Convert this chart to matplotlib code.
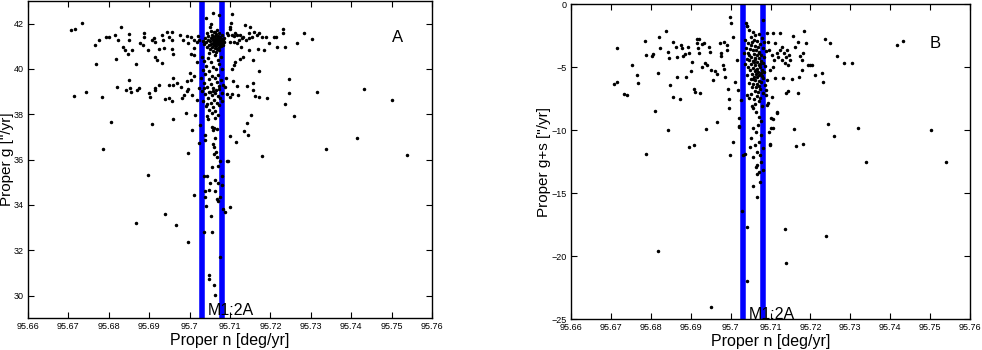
import numpy as np
import matplotlib
matplotlib.use('Agg')
import matplotlib.pyplot as plt

plt.rcParams['font.family'] = ['Liberation Sans', 'DejaVu Sans']

# resonance M1:2A borders (deg/yr)
res_lo = 95.703
res_hi = 95.708
res_name = 'M1:2A'

n_ticks = [95.66, 95.67, 95.68, 95.69, 95.70, 95.71, 95.72, 95.73, 95.74, 95.75, 95.76]
n_labels = ['95.66', '95.67', '95.68', '95.69', '95.7', '95.71', '95.72', '95.73', '95.74', '95.75', '95.76']
g_ticks = [30, 32, 34, 36, 38, 40, 42]
gs_ticks = [0, -5, -10, -15, -20, -25]

# panel A: proper n vs proper g
a_outer = [
    (95.6706, 41.72), (95.6717, 41.75), (95.6733, 42.04), (95.6766, 41.05), (95.6776, 41.30),
    (95.6769, 40.24), (95.6793, 41.39), (95.6801, 41.39), (95.6816, 41.52), (95.6822, 41.30),
    (95.6830, 41.83), (95.6836, 40.98), (95.6841, 40.83), (95.6817, 40.46), (95.6849, 41.54),
    (95.6849, 41.30), (95.6847, 40.68), (95.6858, 40.83), (95.6868, 40.24), (95.6878, 41.13),
    (95.6884, 41.05), (95.6887, 41.57), (95.6886, 41.42), (95.6898, 40.83), (95.6906, 41.27),
    (95.6912, 41.35), (95.6915, 41.20), (95.6915, 40.51), (95.6919, 40.39), (95.6924, 40.86),
    (95.6714, 38.80), (95.6743, 38.97), (95.6783, 38.77), (95.6806, 37.65), (95.6821, 39.21),
    (95.6843, 39.09), (95.6851, 39.50), (95.6855, 38.99), (95.6853, 39.15), (95.6869, 39.09),
    (95.6874, 39.18), (95.6900, 38.94), (95.6901, 38.77), (95.6915, 39.09), (95.6915, 39.18),
    (95.6906, 37.56), (95.6925, 39.28), (95.6785, 36.48), (95.6896, 35.34),
    (95.6931, 41.49), (95.6935, 41.27), (95.6944, 41.61), (95.6956, 41.61), (95.6948, 41.42),
    (95.6956, 41.27), (95.6937, 40.91), (95.6956, 40.86), (95.6958, 40.68), (95.6931, 40.27),
    (95.6977, 41.49), (95.6983, 41.30), (95.6993, 41.45), (95.6997, 41.16), (95.7003, 41.39),
    (95.7010, 41.27), (95.7018, 41.20), (95.7003, 40.68), (95.7011, 40.61), (95.7010, 40.91),
    (95.7022, 41.45), (95.7024, 41.27), (95.7018, 40.32), (95.7000, 39.83), (95.7010, 39.68),
    (95.7003, 39.53), (95.6993, 39.47), (95.6997, 39.13), (95.6978, 39.21), (95.6968, 39.36),
    (95.6958, 39.58), (95.6960, 39.31), (95.6948, 39.28), (95.6939, 38.69), (95.6950, 38.74),
    (95.6956, 38.59), (95.6981, 38.74), (95.6986, 38.87), (95.6993, 39.03), (95.7005, 38.84),
    (95.7018, 38.65), (95.7024, 39.18), (95.7014, 37.96), (95.6991, 38.06), (95.6960, 37.81),
    (95.7005, 37.29), (95.6997, 36.29), (95.7024, 36.73), (95.7026, 37.51),
    (95.7106, 42.41), (95.7103, 42.01), (95.7099, 41.86), (95.7100, 41.75), (95.7092, 41.57),
    (95.7096, 41.49), (95.7104, 41.52), (95.7109, 41.45), (95.7113, 41.57), (95.7117, 41.49),
    (95.7125, 41.52), (95.7123, 41.30), (95.7129, 41.35), (95.7133, 41.42), (95.7137, 41.94),
    (95.7140, 41.30), (95.7146, 41.35), (95.7146, 41.57), (95.7150, 41.83), (95.7154, 41.42),
    (95.7160, 41.64), (95.7166, 41.49), (95.7173, 41.57), (95.7179, 41.42), (95.7189, 41.42),
    (95.7197, 41.16), (95.7208, 41.42), (95.7214, 41.42), (95.7232, 41.75), (95.7230, 41.57),
    (95.7283, 41.57), (95.7304, 41.32), (95.7267, 41.13), (95.7236, 40.98), (95.7216, 40.98),
    (95.7183, 40.83), (95.7170, 40.86), (95.7148, 40.83), (95.7127, 40.98), (95.7117, 41.13),
    (95.7109, 41.20), (95.7099, 41.20), (95.7125, 40.42), (95.7132, 40.54), (95.7113, 40.32),
    (95.7109, 40.17), (95.7104, 39.98), (95.7156, 40.39), (95.7171, 39.90), (95.7245, 39.55),
    (95.7158, 39.36), (95.7158, 39.09), (95.7143, 39.24), (95.7118, 39.24), (95.7107, 39.45),
    (95.7090, 39.62), (95.7088, 39.21), (95.7092, 38.91), (95.7100, 38.77), (95.7106, 38.91),
    (95.7120, 38.84), (95.7163, 38.80), (95.7173, 38.77), (95.7191, 38.72), (95.7247, 38.94),
    (95.7235, 38.47), (95.7259, 37.93), (95.7151, 37.96), (95.7142, 37.63), (95.7135, 37.25),
    (95.7144, 37.10), (95.7115, 36.77), (95.7100, 37.03), (95.7179, 36.14), (95.7337, 36.45),
    (95.7414, 36.95), (95.7432, 39.13), (95.7316, 38.99), (95.7500, 38.62), (95.7537, 36.21),
    (95.7094, 35.93),
]
a_core = [
    (95.7041, 42.23), (95.7059, 42.48), (95.7053, 41.98), (95.7050, 41.86), (95.7072, 42.38),
    (95.7063, 41.64),
    (95.7032, 41.25), (95.7036, 41.10), (95.7038, 41.38), (95.7041, 41.18), (95.7043, 40.95),
    (95.7045, 41.30), (95.7046, 41.45), (95.7048, 41.05), (95.7050, 41.22), (95.7051, 40.88),
    (95.7052, 41.36), (95.7054, 41.12), (95.7055, 41.50), (95.7056, 40.98), (95.7057, 41.28),
    (95.7058, 41.16), (95.7059, 41.40), (95.7060, 41.05), (95.7061, 41.24), (95.7062, 41.33),
    (95.7062, 40.92), (95.7063, 41.12), (95.7064, 41.45), (95.7064, 41.20), (95.7065, 41.02),
    (95.7066, 41.30), (95.7066, 41.55), (95.7067, 41.14), (95.7068, 41.38), (95.7068, 40.90),
    (95.7069, 41.22), (95.7070, 41.08), (95.7070, 41.46), (95.7071, 41.28), (95.7072, 41.17),
    (95.7072, 40.98), (95.7073, 41.35), (95.7074, 41.60), (95.7075, 41.10), (95.7075, 41.25),
    (95.7076, 41.42), (95.7077, 41.02), (95.7078, 41.20), (95.7079, 41.32), (95.7080, 41.12),
    (95.7081, 41.48), (95.7082, 41.26), (95.7083, 41.05), (95.7084, 41.38), (95.7086, 41.18),
    (95.7060, 41.62), (95.7053, 41.68), (95.7069, 41.70), (95.7044, 41.58), (95.7058, 40.80),
    (95.7066, 40.75), (95.7049, 40.70), (95.7074, 40.85),
    (95.7030, 40.55), (95.7045, 40.48), (95.7062, 40.60), (95.7078, 40.52), (95.7036, 40.35),
    (95.7054, 40.30), (95.7070, 40.38), (95.7041, 40.15), (95.7058, 40.10), (95.7074, 40.20),
    (95.7033, 39.95), (95.7049, 39.92), (95.7066, 39.98), (95.7080, 40.02), (95.7039, 39.78),
    (95.7056, 39.70), (95.7071, 39.75), (95.7028, 39.60), (95.7047, 39.55), (95.7062, 39.62),
    (95.7077, 39.50), (95.7035, 39.40), (95.7053, 39.35), (95.7068, 39.42), (95.7083, 39.30),
    (95.7042, 39.22), (95.7059, 39.18), (95.7074, 39.12), (95.7031, 39.05), (95.7050, 39.00),
    (95.7065, 39.08), (95.7079, 38.95), (95.7038, 38.88), (95.7056, 38.85), (95.7070, 38.80),
    (95.7045, 38.70), (95.7061, 38.65), (95.7076, 38.72), (95.7033, 38.58), (95.7052, 38.52),
    (95.7067, 38.48), (95.7040, 38.38), (95.7058, 38.32), (95.7073, 38.40), (95.7048, 38.20),
    (95.7064, 38.15), (95.7055, 38.05), (95.7070, 37.98), (95.7043, 37.92), (95.7062, 37.85),
    (95.7036, 39.15), (95.7063, 38.92), (95.7047, 38.98), (95.7072, 39.25), (95.7057, 39.05),
    (95.7081, 38.60), (95.7044, 38.45),
    (95.7055, 37.44), (95.7061, 37.39), (95.7067, 37.37), (95.7059, 37.32), (95.7045, 37.81),
    (95.7063, 36.95), (95.7037, 37.10), (95.7038, 36.85), (95.7059, 36.70), (95.7061, 36.55),
    (95.7065, 36.33), (95.7061, 36.26), (95.7067, 36.11), (95.7071, 35.74), (95.7056, 35.67),
    (95.7075, 35.96), (95.7092, 35.92),
    (95.7012, 34.46), (95.7036, 35.26), (95.7044, 35.26), (95.7051, 34.96), (95.7063, 35.08),
    (95.7071, 34.96), (95.7038, 34.61), (95.7047, 34.64), (95.7063, 34.61), (95.7038, 34.37),
    (95.7041, 33.97), (95.7067, 34.27), (95.7071, 34.19), (95.7076, 34.37), (95.7052, 33.53),
    (95.7036, 32.79), (95.7055, 32.79), (95.7080, 35.26), (95.7080, 34.90), (95.7082, 33.83),
    (95.7088, 33.68), (95.7099, 33.90), (95.7076, 31.69), (95.7047, 30.92), (95.7047, 30.73),
    (95.7061, 30.48), (95.7063, 30.04), (95.6938, 33.60), (95.6966, 33.12), (95.6995, 32.35),
    (95.6867, 33.19),
]

# panel B: proper n vs proper g+s
b_outer = [
    (95.6708, -6.35), (95.6714, -3.50), (95.6716, -6.14), (95.6733, -7.15), (95.6741, -7.20),
    (95.6752, -4.82), (95.6766, -5.61), (95.6769, -6.22), (95.6785, -2.89), (95.6789, -4.02),
    (95.6788, -11.88), (95.6802, -4.10), (95.6806, -3.95), (95.6810, -8.47), (95.6819, -5.48),
    (95.6821, -2.57), (95.6823, -3.50), (95.6838, -2.09), (95.6844, -9.98), (95.6844, -3.81),
    (95.6846, -4.29), (95.6848, -6.41), (95.6855, -3.02), (95.6856, -7.39), (95.6863, -3.36),
    (95.6865, -4.16), (95.6866, -5.80), (95.6873, -7.54), (95.6875, -3.23), (95.6877, -3.50),
    (95.6880, -4.10), (95.6885, -3.95), (95.6888, -5.80), (95.6894, -3.36), (95.6896, -3.89),
    (95.6896, -11.30), (95.6908, -11.17), (95.6900, -5.27), (95.6902, -4.55), (95.6910, -6.94),
    (95.6909, -6.75), (95.6915, -3.10), (95.6916, -2.78), (95.6921, -2.78), (95.6919, -3.50),
    (95.6921, -3.89), (95.6923, -7.07), (95.6927, -5.00), (95.6927, -3.15), (95.6933, -3.10),
    (95.6936, -4.69), (95.6940, -4.82), (95.6938, -9.93), (95.6946, -3.36), (95.6948, -3.76),
    (95.6950, -5.22), (95.6956, -6.01), (95.6961, -5.30), (95.6965, -5.53), (95.6966, -9.32),
    (95.6973, -3.10), (95.6975, -3.89), (95.6977, -4.10), (95.6981, -4.82), (95.6983, -5.16),
    (95.6983, -2.97), (95.6986, -5.80), (95.6990, -3.23), (95.6992, -3.63), (95.6994, -6.75),
    (95.6996, -7.49), (95.6996, -8.26), (95.6998, -11.96), (95.6998, -1.04), (95.7002, -1.46),
    (95.7006, -2.57), (95.7006, -10.91), (95.7011, -6.14), (95.7015, -4.42), (95.7018, -6.80),
    (95.7090, -2.30), (95.7094, -2.97), (95.7107, -2.25), (95.7124, -2.25), (95.7111, -3.05),
    (95.7157, -2.52), (95.7161, -3.36), (95.7169, -2.97), (95.7174, -4.10), (95.7178, -4.42),
    (95.7182, -3.89), (95.7184, -2.09), (95.7190, -3.05), (95.7195, -4.82), (95.7199, -4.82),
    (95.7203, -4.82), (95.7172, -5.74), (95.7178, -5.21), (95.7211, -5.61), (95.7230, -5.48),
    (95.7232, -6.14), (95.7236, -2.78), (95.7249, -3.10), (95.7267, -4.10), (95.7284, -4.63),
    (95.7303, -4.63), (95.7416, -3.23), (95.7433, -2.89), (95.7132, -5.88), (95.7153, -5.96),
    (95.7140, -7.02), (95.7144, -6.86), (95.7169, -7.02), (95.7115, -8.52), (95.7107, -9.13),
    (95.7101, -9.85), (95.7099, -11.09), (95.7159, -9.87), (95.7164, -11.25), (95.7182, -11.09),
    (95.7245, -9.53), (95.7259, -10.46), (95.7318, -9.79), (95.7339, -12.49), (95.7503, -9.98),
    (95.7539, -12.55),
    (95.7097, -3.63), (95.7103, -4.02), (95.7109, -4.42), (95.7115, -3.89), (95.7119, -4.16),
    (95.7124, -3.63), (95.7128, -4.42), (95.7130, -3.36), (95.7134, -3.89), (95.7136, -4.69),
    (95.7139, -4.16), (95.7142, -3.63), (95.7144, -4.82), (95.7147, -4.02), (95.7150, -4.42),
    (95.7107, -4.95), (95.7099, -5.22), (95.7092, -6.01), (95.7111, -5.88), (95.7089, -6.80),
    (95.7103, -7.33), (95.7094, -7.86),
    (95.7067, -13.50), (95.7073, -14.08), (95.7057, -14.42), (95.7065, -15.27), (95.7029, -16.38),
    (95.7040, -17.70), (95.7136, -17.83), (95.7138, -20.56), (95.7239, -18.39), (95.6819, -19.58),
    (95.7040, -21.96), (95.6952, -24.00),
]
b_core = [
    (95.7038, -1.46), (95.7042, -1.72), (95.7082, -1.25),
    (95.7040, -1.70), (95.7046, -2.05), (95.7055, -2.20), (95.7062, -2.45), (95.7070, -2.35),
    (95.7050, -2.60), (95.7078, -2.70), (95.7036, -2.85), (95.7058, -2.80), (95.7066, -2.95),
    (95.7084, -3.00), (95.7044, -3.10), (95.7052, -3.20), (95.7074, -3.15), (95.7060, -3.30),
    (95.7069, -3.40), (95.7038, -3.45), (95.7081, -3.50), (95.7048, -3.55), (95.7056, -3.65),
    (95.7064, -3.60), (95.7072, -3.75), (95.7088, -3.70), (95.7033, -3.85), (95.7043, -3.90),
    (95.7059, -3.95), (95.7067, -4.00), (95.7077, -4.05), (95.7052, -4.15), (95.7084, -4.20),
    (95.7062, -4.25), (95.7071, -4.30), (95.7040, -4.35), (95.7046, -4.45), (95.7056, -4.50),
    (95.7066, -4.55), (95.7075, -4.50), (95.7080, -4.65), (95.7035, -4.70), (95.7050, -4.75),
    (95.7061, -4.80), (95.7070, -4.85), (95.7087, -4.90), (95.7044, -5.00), (95.7056, -5.05),
    (95.7065, -5.10), (95.7074, -5.00), (95.7079, -5.20), (95.7048, -5.25), (95.7060, -5.30),
    (95.7068, -5.35), (95.7084, -5.40), (95.7053, -5.50), (95.7063, -5.55), (95.7072, -5.60),
    (95.7077, -5.45), (95.7042, -5.65), (95.7058, -5.75), (95.7067, -5.80), (95.7082, -5.85),
    (95.7050, -5.95), (95.7062, -6.00), (95.7071, -6.05), (95.7076, -6.20), (95.7046, -6.25),
    (95.7057, -6.30), (95.7066, -6.35), (95.7086, -6.40), (95.7053, -6.55), (95.7063, -6.60),
    (95.7073, -6.70), (95.7060, -6.85), (95.7069, -6.95), (95.7080, -7.00), (95.7050, -7.10),
    (95.7065, -7.25), (95.7074, -7.40), (95.7058, -7.55), (95.7070, -7.70), (95.7062, -7.90),
    (95.7078, -8.05), (95.7054, -8.10), (95.7054, -3.00), (95.7070, -3.85), (95.7046, -4.05),
    (95.7058, -4.60), (95.7073, -4.70), (95.7064, -5.25), (95.7055, -5.90), (95.7070, -6.45),
    (95.7078, -5.70), (95.7061, -4.35),
    (95.7057, -8.26), (95.7063, -8.52), (95.7072, -8.92), (95.7077, -9.26), (95.7069, -9.58),
    (95.7057, -9.79), (95.7063, -10.11), (95.7077, -10.37), (95.7052, -10.64), (95.7072, -10.96),
    (95.7061, -11.17), (95.7048, -11.30), (95.7082, -11.43), (95.7067, -11.70), (95.7073, -11.96),
    (95.7056, -12.09), (95.7075, -12.49), (95.7067, -12.76), (95.7063, -12.89), (95.7080, -13.15),
    (95.7072, -13.34), (95.7046, -7.46), (95.7040, -7.20), (95.7027, -7.60), (95.7021, -9.71),
    (95.7031, -11.96), (95.7097, -10.11), (95.7102, -9.05), (95.7107, -9.79), (95.7117, -8.65),
    (95.7098, -11.17), (95.7090, -7.99), (95.7088, -7.20), (95.7021, -9.05), (95.7022, -9.66),
    (95.7036, -11.88),
]

a_pts = np.array(a_outer + a_core)
b_pts = np.array(b_outer + b_core)


def panel(ax, pts, ylim, yticks, ylabel, lab_x, tag, tag_y, name_y):
    ax.axvline(res_lo, color='#0000ff', lw=4, zorder=1)
    ax.axvline(res_hi, color='#0000ff', lw=4, zorder=1)
    ax.plot(pts[:, 0], pts[:, 1], 'k.', ms=3, zorder=2)
    ax.set_xlim(95.66, 95.76)
    ax.set_ylim(*ylim)
    ax.set_xticks(n_ticks)
    ax.set_xticklabels(n_labels)
    ax.set_yticks(yticks)
    ax.tick_params(direction='in', length=4, width=0.8, labelsize=6.5, pad=3,
                   top=True, right=True)
    for s in ax.spines.values():
        s.set_linewidth(1.0)
    ax.set_xlabel('Proper n [deg/yr]', fontsize=11.5, labelpad=1)
    ax.set_ylabel(ylabel, fontsize=11)
    ax.yaxis.set_label_coords(lab_x, 0.5)
    ax.text(95.75, tag_y, tag, fontsize=12, ha='left', va='center')
    ax.text(95.7046, name_y, res_name, fontsize=11.5, ha='left', va='baseline')


fig = plt.figure(figsize=(9.82, 3.5), dpi=100)
ax1 = fig.add_axes([0.0285, 0.0906, 0.4114, 0.9066])
ax2 = fig.add_axes([0.5815, 0.0877, 0.4063, 0.9])

panel(ax1, a_pts, (29, 43), g_ticks, 'Proper g ["/yr]', -0.034, 'A', 41.39, 29.15)
panel(ax2, b_pts, (-25, 0), gs_ticks, 'Proper g+s ["/yr]', -0.05, 'B', -3.1, -24.95)

plt.savefig('out.png', dpi=100)
